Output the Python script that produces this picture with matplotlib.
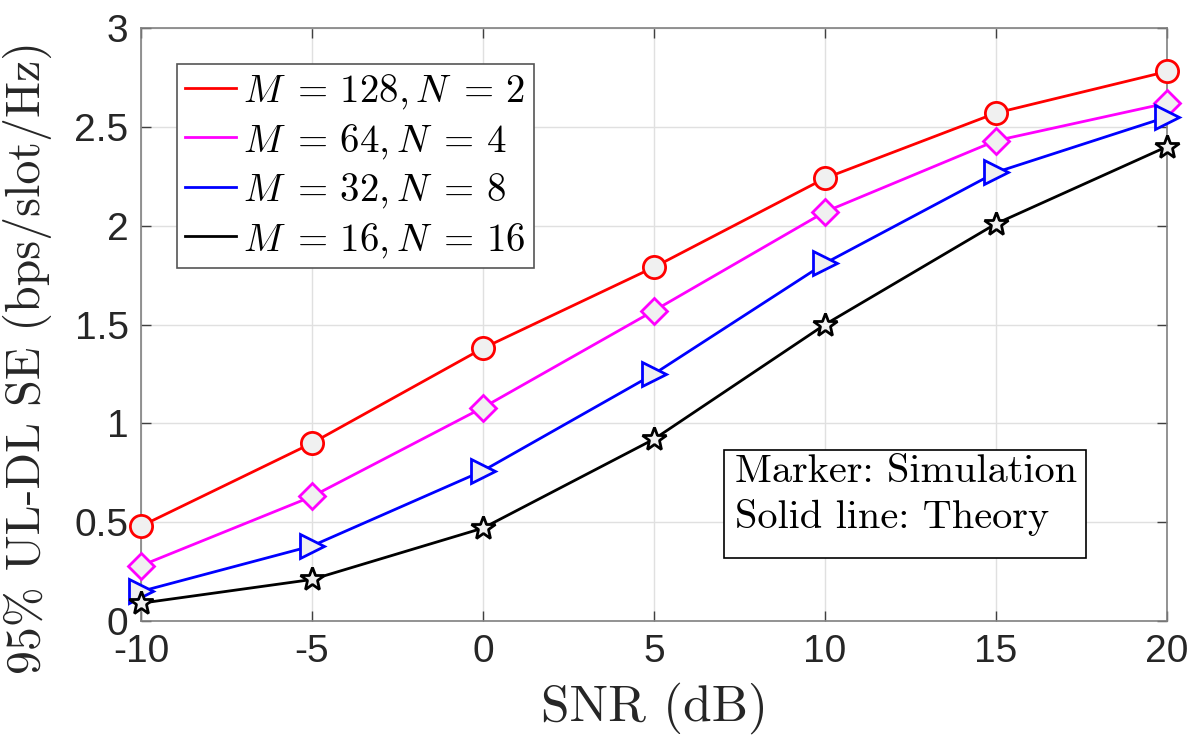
import matplotlib
matplotlib.use("Agg")
import matplotlib.pyplot as plt
from matplotlib.patches import Rectangle

plt.rcParams['mathtext.fontset'] = 'cm'
plt.rcParams['font.family'] = ['Liberation Sans', 'DejaVu Sans']

# SNR values (dB)
snr = [-10, -5, 0, 5, 10, 15, 20]

# 95% UL-DL SE
se_128_2 = [0.48, 0.90, 1.38, 1.79, 2.24, 2.57, 2.78]
se_64_4 = [0.28, 0.63, 1.08, 1.57, 2.07, 2.43, 2.62]
se_32_8 = [0.15, 0.38, 0.76, 1.25, 1.81, 2.27, 2.55]
se_16_16 = [0.09, 0.21, 0.47, 0.92, 1.50, 2.01, 2.40]

labels = [r'$M\;=\,128, N\;=\,2$', r'$M\;=\,64, N\;=\,4$',
          r'$M\;=\,32, N\;=\,8$', r'$M\;=\,16, N\;=\,16$']
colors = ['#ff0000', '#ff00ff', '#0000ff', '#000000']
markers = ['o', 'D', '>', '*']
msizes = [16, 13, 17, 18]

fig = plt.figure(figsize=(11.96, 7.35), dpi=100)
ax = fig.add_axes([0.1179, 0.1551, 0.8579, 0.8068])

series = [se_128_2, se_64_4, se_32_8, se_16_16]
for ys, c, m, ms, lab in zip(series, colors, markers, msizes, labels):
    # theory: solid line
    ax.plot(snr, ys, color=c, linewidth=2, label=lab, zorder=3)
    # simulation: markers only
    ax.plot(snr, ys, linestyle='none', marker=m, markersize=ms,
            markerfacecolor='#f0f0f0', markeredgecolor=c,
            markeredgewidth=2, zorder=4, clip_on=False)

ax.set_xlim(-10, 20)
ax.set_ylim(0, 3)
ax.set_xticks(snr)
ax.set_xticklabels(['-10', '-5', '0', '5', '10', '15', '20'])
ax.set_yticks([0, 0.5, 1, 1.5, 2, 2.5, 3])
ax.set_yticklabels(['0', '0.5', '1', '1.5', '2', '2.5', '3'])
ax.tick_params(direction='in', top=True, right=True, labelsize=28,
               length=7, width=1, color='#404040', labelcolor='#262626', pad=9)
for sp in ax.spines.values():
    sp.set_color('#808080')
    sp.set_linewidth(1.2)
ax.grid(True, color='#e0e0e0', linewidth=1)
ax.set_axisbelow(True)

ax.set_xlabel('SNR (dB)', fontfamily='cmr10', fontsize=37, labelpad=9,
              color='#262626')
ax.set_ylabel('95% UL-DL SE (bps/slot/Hz)', fontfamily='cmr10', fontsize=34.5,
              color='#262626')
ax.yaxis.set_label_coords(-0.087, 0.445)

leg = ax.legend(loc='upper left', bbox_to_anchor=(0.035, 0.94), fontsize=28,
                handlelength=1.3, handletextpad=0.18, labelspacing=0.27,
                borderpad=0.22, fancybox=False, framealpha=1,
                borderaxespad=0)
leg.get_frame().set_edgecolor('#555555')
leg.get_frame().set_linewidth(1.2)

# annotation box (fixed size, like the original)
ax.add_patch(Rectangle((0.568, 0.106), 0.353, 0.182, transform=ax.transAxes,
                       facecolor='white', edgecolor='black', linewidth=1.2,
                       zorder=5))
ax.text(0.579, 0.281, 'Marker: Simulation\nSolid line: Theory',
        transform=ax.transAxes, fontfamily='cmr10', fontsize=29,
        va='top', ha='left', linespacing=1.3, zorder=6)

fig.savefig('out.png', dpi=100)
